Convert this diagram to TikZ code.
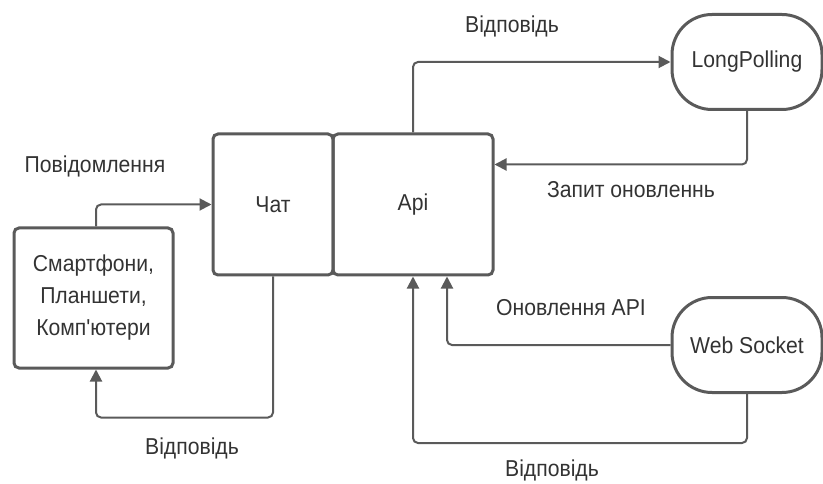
\documentclass[tikz,border=0pt]{standalone}
\usepackage{fontspec}
\setmainfont{Liberation Sans}[Ligatures=TeXOff, FakeStretch=0.92]
\usetikzlibrary{arrows.meta}
\definecolor{linegray}{HTML}{5A5A5A}
\definecolor{textgray}{HTML}{333333}

\begin{document}
\begin{tikzpicture}[x=1pt, y=-1pt,
  box/.style={draw=linegray, line width=3pt, rounded corners=5pt, text=textgray,
    align=center, inner sep=0pt, font=\fontsize{23}{32}\selectfont},
  pill/.style={box, rounded corners=40pt, minimum width=150pt, minimum height=95pt},
  conn/.style={draw=linegray, line width=2pt, rounded corners=5pt,
    -{Triangle[length=12pt,width=12pt]}},
  lbl/.style={text=textgray, font=\fontsize{23}{26}\selectfont}]
  \useasboundingbox (0,0) rectangle (823,484);
  % Boxes
  \node[box, minimum width=159pt, minimum height=140pt] (dev) at (93.5,298) {Смартфони,\\Планшети,\\Комп'ютери};
  \node[box, minimum width=120pt, minimum height=141pt] (chat) at (273,204.5) {Чат};
  \node[box, minimum width=160pt, minimum height=141pt] (api) at (413,204.5) {Api};
  \node[pill] (lp) at (747,62) {LongPolling};
  \node[pill] (ws) at (747,345) {Web Socket};
  % Connectors
  \draw[conn] ([xshift=2.5pt]dev.north) |- (chat.west);
  \draw[conn] (chat.south) -- ++(0,141) -| ([xshift=2.5pt]dev.south);
  \draw[conn] (api.north) |- (lp.west);
  \draw[conn] (lp.south) |- ([yshift=40pt]api.east);
  \draw[conn] (ws.west) -| ([xshift=34pt]api.south);
  \draw[conn] (ws.south) -- ++(0,49) -| (api.south);
  % Labels
  \node[lbl] (msg) at (95,166) {Повідомлення};
  \node[lbl] (ans1) at (192,448) {Відповідь};
  \node[lbl] (ans2) at (512,26) {Відповідь};
  \node[lbl] (req) at (631,190) {Запит оновленнь};
  \node[lbl] (upd) at (571,308) {Оновлення API};
  \node[lbl] (ans3) at (552,470) {Відповідь};
\end{tikzpicture}
\end{document}
